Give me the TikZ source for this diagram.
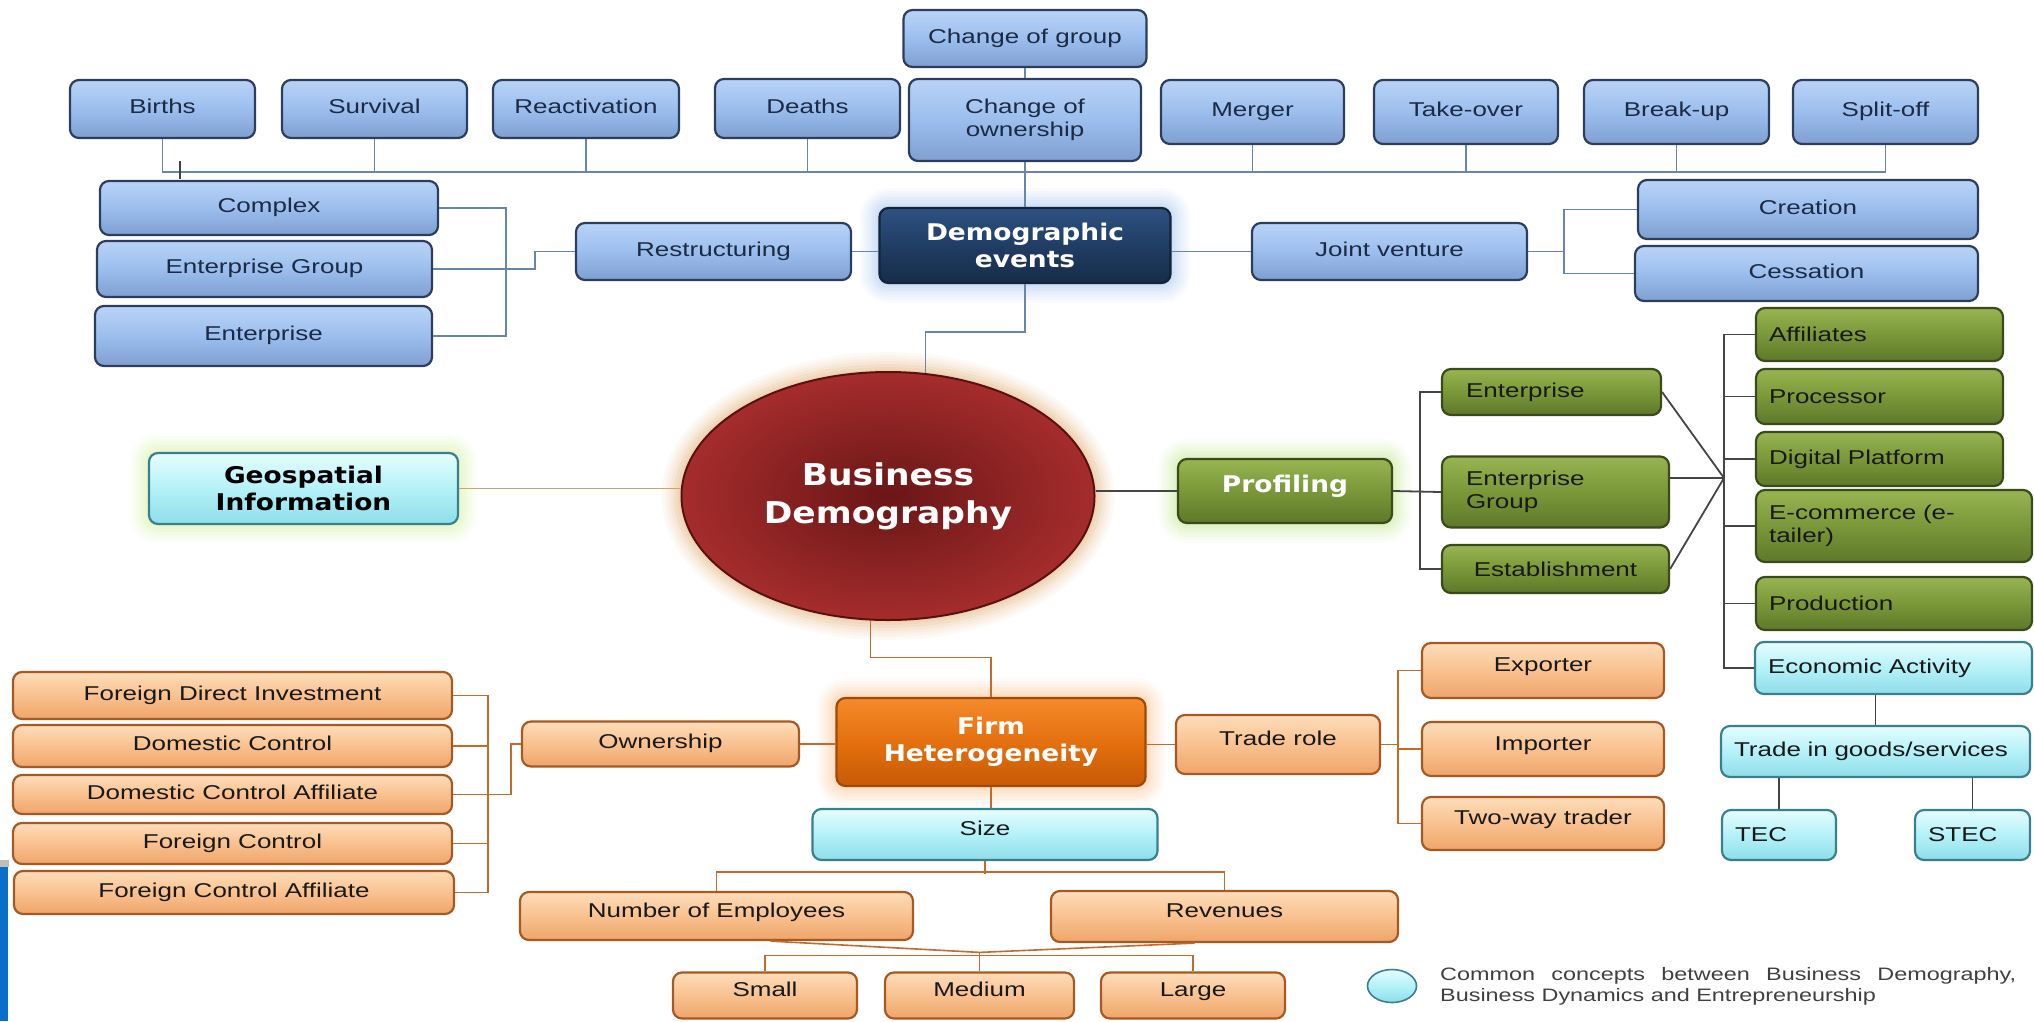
\documentclass[tikz,border=0pt]{standalone}
\usepackage{fontspec}
\setmainfont{Liberation Sans}[FakeStretch=1.3]
\newfontfamily\headfont{DejaVu Sans}[FakeStretch=1.15]
\usetikzlibrary{shapes.geometric}
\usetikzlibrary{positioning}

\definecolor{evfill}{HTML}{9CBEEE}
\definecolor{evtop}{HTML}{B9D3F6}
\definecolor{evbot}{HTML}{7E9FCF}
\definecolor{evdraw}{HTML}{2C3E5C}
\definecolor{evtext}{HTML}{1B2A45}
\definecolor{evwirec}{HTML}{6786A8}
\definecolor{orfill}{HTML}{F9C18F}
\definecolor{ortop}{HTML}{FDDDBA}
\definecolor{orbot}{HTML}{EFA56A}
\definecolor{ordraw}{HTML}{A65A22}
\definecolor{orwirec}{HTML}{C46A2B}
\definecolor{grfill}{HTML}{7A9839}
\definecolor{grtop}{HTML}{98B452}
\definecolor{grbot}{HTML}{5E7829}
\definecolor{grdraw}{HTML}{3A4A1A}
\definecolor{grwirec}{HTML}{454545}
\definecolor{cyfill}{HTML}{B4F1F8}
\definecolor{cytop}{HTML}{E6FDFF}
\definecolor{cybot}{HTML}{8FDDE9}
\definecolor{cydraw}{HTML}{3B7F8C}
\definecolor{navyfill}{HTML}{203D64}
\definecolor{navytop}{HTML}{2F5282}
\definecolor{navybot}{HTML}{172C49}
\definecolor{navydraw}{HTML}{12233A}
\definecolor{firmfill}{HTML}{E4700E}
\definecolor{firmtop}{HTML}{F58A2C}
\definecolor{firmbot}{HTML}{C85A06}
\definecolor{firmdraw}{HTML}{9C4A0C}
\definecolor{bdin}{HTML}{6A1616}
\definecolor{bdout}{HTML}{A52C2C}
\definecolor{bddraw}{HTML}{5A1010}
\definecolor{evglow}{HTML}{8DB4E8}
\definecolor{geoglow}{HTML}{C8EC8E}
\definecolor{prglow}{HTML}{B5E078}
\definecolor{firmglow}{HTML}{F9B070}
\definecolor{bdglow}{HTML}{D99850}
\definecolor{geowirec}{HTML}{C9A66B}
\definecolor{barblue}{HTML}{0A6FC8}

\tikzset{
  halo/.style={preaction={draw=#1,line width=40,opacity=.05},
               preaction={draw=#1,line width=34,opacity=.06},
               preaction={draw=#1,line width=28,opacity=.07},
               preaction={draw=#1,line width=22,opacity=.08},
               preaction={draw=#1,line width=16,opacity=.09},
               preaction={draw=#1,line width=10,opacity=.1},
               preaction={draw=#1,line width=5,opacity=.12}},
  card/.style={line width=2.2, rounded corners=9, inner xsep=6, inner ysep=2,
               font=\fontsize{20}{23}\selectfont},
  evbase/.style={card, draw=evdraw, top color=evtop, bottom color=evbot,
                 middle color=evfill, text=evtext, align=center},
  evbox/.style={evbase, text height=15, text depth=6},
  orbox/.style={card, draw=ordraw, top color=ortop, bottom color=orbot,
                middle color=orfill, text=black!90, align=center,
                text height=15, text depth=6},
  raised/.style={text height=15, text depth=13},
  grbox/.style={card, draw=grdraw, top color=grtop, bottom color=grbot,
                middle color=grfill, text=black!90, align=left, inner xsep=13},
  cybox/.style={card, draw=cydraw, top color=cytop, bottom color=cybot,
                middle color=cyfill, text=black!90, align=left, inner xsep=13},
  hub/.style={card, text=white, align=center,
              font=\headfont\bfseries\fontsize{23}{27}\selectfont},
  evwire/.style={draw=evwirec, line width=1.4},
  orwire/.style={draw=orwirec, line width=1.6},
  grwire/.style={draw=grwirec, line width=1.8},
  geowire/.style={draw=geowirec, line width=1.4}
}

\begin{document}
\begin{tikzpicture}[x=1pt,y=-1pt]
  \useasboundingbox (0,0) rectangle (2034,1021);

  % demographic events
  \node[evbox, minimum width=243, minimum height=57] (chgrp) at (1025,38.5) {Change of group};
  \node[evbox, minimum width=185, minimum height=58] (births) at (162.5,109) {Births};
  \node[evbox, minimum width=185, minimum height=58] (survival) at (374.5,109) {Survival};
  \node[evbox, minimum width=186, minimum height=58] (react) at (586,109) {Reactivation};
  \node[evbox, minimum width=185, minimum height=59] (deaths) at (807.5,108.5) {Deaths};
  \node[evbase, minimum width=232, minimum height=82] (chown) at (1025,120) {Change of\\ownership};
  \node[evbox, minimum width=183, minimum height=64] (merger) at (1252.5,112) {Merger};
  \node[evbox, minimum width=184, minimum height=64] (takeover) at (1466,112) {Take-over};
  \node[evbox, minimum width=185, minimum height=64] (breakup) at (1676.5,112) {Break-up};
  \node[evbox, minimum width=185, minimum height=64] (splitoff) at (1885.5,112) {Split-off};
  \node[evbox, minimum width=338, minimum height=54] (complex) at (269,208) {Complex};
  \node[evbox, minimum width=335, minimum height=56] (entgrp) at (264.5,269) {Enterprise Group};
  \node[evbox, minimum width=337, minimum height=60] (enter) at (263.5,336) {Enterprise};
  \node[evbox, minimum width=275, minimum height=57] (restr) at (713.5,251.5) {Restructuring};
  \node[evbox, minimum width=275, minimum height=57] (jv) at (1389.5,251.5) {Joint venture};
  \node[evbox, minimum width=340, minimum height=59] (creation) at (1808,209.5) {Creation};
  \node[evbox, minimum width=343, minimum height=55] (cessation) at (1806.5,273.5) {Cessation};
  \node[hub, draw=navydraw, top color=navytop, bottom color=navybot, middle color=navyfill,
        halo=evglow, minimum width=291, minimum height=75] (demo) at (1025,245.5) {Demographic\\events};

  % centre
  \node[ellipse, draw=bddraw, line width=2, inner color=bdin, outer color=bdout, halo=bdglow,
        minimum width=413, minimum height=248, text=white, align=center,
        font=\headfont\bfseries\fontsize{30}{38}\selectfont] (bd) at (888,496) {Business\\Demography};
  \node[hub, text=black, draw=cydraw, top color=cytop, bottom color=cybot, middle color=cyfill,
        halo=geoglow, minimum width=309, minimum height=71] (geo) at (303.5,488.5) {Geospatial\\Information};

  % profiling
  \node[hub, draw=grdraw, top color=grtop, bottom color=grbot, middle color=grfill, halo=prglow,
        text height=17, text depth=15, minimum width=214, minimum height=64] (prof) at (1285,491) {Profiling};
  \node[grbox, text width=171, inner xsep=24, minimum height=46] (pent) at (1551.5,392) {Enterprise};
  \node[grbox, text width=179, inner xsep=24, minimum height=71] (pgrp) at (1555.5,492) {Enterprise\\Group};
  \node[grbox, align=center, minimum width=227, minimum height=48] (pest) at (1555.5,569) {Establishment};
  \node[grbox, text width=221, minimum height=53] (aff) at (1879.5,334.5) {Affiliates};
  \node[grbox, text width=221, minimum height=55] (proc) at (1879.5,396.5) {Processor};
  \node[grbox, text width=221, minimum height=54] (digi) at (1879.5,459) {Digital Platform};
  \node[grbox, text width=250, minimum height=72] (ecom) at (1894,526) {E-commerce (e-\\tailer)};
  \node[grbox, text width=250, minimum height=53] (prod) at (1894,603.5) {Production};
  \node[cybox, text width=251, minimum height=52] (econ) at (1893.5,668) {Economic Activity};
  \node[cybox, text width=283, minimum height=51] (trade) at (1875.5,751.5) {Trade in goods/services};
  \node[cybox, text width=88, minimum height=50] (tec) at (1779,835) {TEC};
  \node[cybox, text width=89, minimum height=50] (stec) at (1972.5,835) {STEC};

  % firm heterogeneity
  \node[hub, draw=firmdraw, top color=firmtop, bottom color=firmbot, middle color=firmfill,
        halo=firmglow, minimum width=309, minimum height=88] (firm) at (991,742) {Firm\\Heterogeneity};
  \node[orbox, minimum width=439, minimum height=47] (fdi) at (232.5,695.5) {Foreign Direct Investment};
  \node[orbox, minimum width=439, minimum height=42] (dc) at (232.5,746) {Domestic Control};
  \node[orbox, minimum width=439, minimum height=39] (dca) at (232.5,794.5) {Domestic Control Affiliate};
  \node[orbox, minimum width=439, minimum height=41] (fc) at (232.5,843.5) {Foreign Control};
  \node[orbox, minimum width=440, minimum height=43] (fca) at (234,892.5) {Foreign Control Affiliate};
  \node[orbox, minimum width=277, minimum height=45] (own) at (660.5,744) {Ownership};
  \node[orbox, raised, minimum width=204, minimum height=59] (trole) at (1278,744.5) {Trade role};
  \node[orbox, raised, minimum width=242, minimum height=55] (exp) at (1543,670.5) {Exporter};
  \node[orbox, raised, minimum width=242, minimum height=54] (imp) at (1543,749) {Importer};
  \node[orbox, raised, minimum width=242, minimum height=53] (twoway) at (1543,823.5) {Two-way trader};
  \node[cybox, raised, align=center, minimum width=345, minimum height=51] (size) at (985,834.5) {Size};
  \node[orbox, raised, minimum width=393, minimum height=48] (noe) at (716.5,916) {Number of Employees};
  \node[orbox, raised, minimum width=347, minimum height=51] (rev) at (1224.5,916.5) {Revenues};
  \node[orbox, raised, minimum width=184, minimum height=46] (small) at (765,995.5) {Small};
  \node[orbox, raised, minimum width=189, minimum height=46] (medium) at (979.5,995.5) {Medium};
  \node[orbox, raised, minimum width=184, minimum height=46] (large) at (1193,995.5) {Large};

  % legend
  \node[ellipse, draw=cydraw, line width=1.6, top color=cytop, bottom color=cybot, middle color=cyfill,
        minimum width=49, minimum height=33] (key) at (1392,986) {};
  \node[anchor=west, text width=576, inner sep=0, align=justify, text=black!75,
        font=\fontsize{18}{21}\selectfont] (keytext) at (1440,986.5)
        {Common concepts between Business Demography,\linebreak Business Dynamics and Entrepreneurship};

  % wires: demographic events
  \coordinate (busL) at (162.5,172);
  \draw[evwire] (births.south) -- (busL) -- (splitoff.south |- busL);
  \draw[evwire] (survival.south) -- (survival.south |- busL);
  \draw[evwire] (react.south) -- (react.south |- busL);
  \draw[evwire] (deaths.south) -- (deaths.south |- busL);
  \draw[evwire] (merger.south) -- (merger.south |- busL);
  \draw[evwire] (takeover.south) -- (takeover.south |- busL);
  \draw[evwire] (breakup.south) -- (breakup.south |- busL);
  \draw[evwire] (splitoff.south) -- (splitoff.south |- busL);
  \draw[black!75, line width=1.4] (180,161) -- (180,179);
  \draw[evwire] (chgrp.south) -- (chown.north);
  \draw[evwire] (chown.south) -- (demo.north);
  \coordinate (rsJ) at (506,269);
  \draw[evwire] (demo.west |- restr.east) -- (restr.east);
  \draw[evwire] (restr.west) -| (535,269) -- (rsJ);
  \draw[evwire] (complex.east) -| (rsJ |- enter.east) -- (enter.east);
  \draw[evwire] (entgrp.east) -- (rsJ);
  \coordinate (jvJ) at (1564,251.5);
  \draw[evwire] (demo.east |- jv.west) -- (jv.west);
  \draw[evwire] (jv.east) -- (jvJ);
  \draw[evwire] (creation.west) -| (jvJ |- cessation.west) -- (cessation.west);
  \draw[evwire] (demo.south) -- ++(0,48) -| (bd.73);

  % wires: centre and profiling
  \draw[geowire] (geo.east) -- (bd.west |- geo.east);
  \draw[grwire, line width=1.2] (bd.east |- prof.west) -- (prof.west);
  \coordinate (pJ) at (1420,492);
  \draw[grwire] (prof.east) -- (pgrp.west);
  \draw[grwire] (pent.west) -| (pJ |- pest.west) -- (pest.west);
  \coordinate (cJ) at (1724,478);
  \draw[grwire] (pent.east) -- (cJ);
  \draw[grwire] (cJ -| pgrp.east) -- (cJ);
  \draw[grwire] (pest.east) -- (cJ);
  \draw[grwire] (aff.west) -| (cJ |- econ.west) -- (econ.west);
  \draw[grwire] (proc.west) -- (proc.west -| cJ);
  \draw[grwire] (digi.west) -- (digi.west -| cJ);
  \draw[grwire] (ecom.west) -- (ecom.west -| cJ);
  \draw[grwire] (prod.west) -- (prod.west -| cJ);
  \draw[grwire] (trade.north) -- (trade.north |- econ.south);
  \draw[grwire] (tec.north) -- (tec.north |- trade.south);
  \draw[grwire] (stec.north) -- (stec.north |- trade.south);

  % wires: firm heterogeneity
  \draw[orwire] (bd.262) -- ++(0,37) -| (firm.north);
  \draw[orwire] (own.east) -- (own.east -| firm.west);
  \draw[orwire] (trole.west -| firm.east) -- (trole.west);
  \coordinate (tJ) at (1398,744.5);
  \draw[orwire] (trole.east) -- (tJ);
  \draw[orwire] (exp.west) -| (tJ |- twoway.west) -- (twoway.west);
  \draw[orwire] (imp.west) -- (imp.west -| tJ);
  \coordinate (oJ) at (488,0);
  \draw[orwire] (fdi.east) -| (oJ |- fca.east) -- (fca.east);
  \draw[orwire] (dc.east) -- (dc.east -| oJ);
  \draw[orwire] (dca.east) -- (dca.east -| oJ);
  \draw[orwire] (fc.east) -- (fc.east -| oJ);
  \draw[orwire] (own.west) -- ++(-10,0) |- (dca.east -| oJ);
  \draw[orwire] (firm.south) -- (firm.south |- size.north);
  \draw[orwire] (size.south) -- ++(0,13);
  \draw[orwire] (noe.north) -- ++(0,-19) -| (rev.north);
  \draw[orwire] (small.north) -- ++(0,-16) -| (large.north);
  \path (medium.north) ++(0,-19) coordinate (mJ);
  \draw[orwire] (medium.north) -- (mJ);
  \draw[orwire] ([xshift=54]noe.south) -- (mJ);
  \draw[orwire] ([xshift=-30]rev.south) -- (mJ);

  % page edge
  \fill[black!25] (0,860) rectangle (9,867);
  \fill[barblue] (0,867) rectangle (8,1021);
\end{tikzpicture}
\end{document}
